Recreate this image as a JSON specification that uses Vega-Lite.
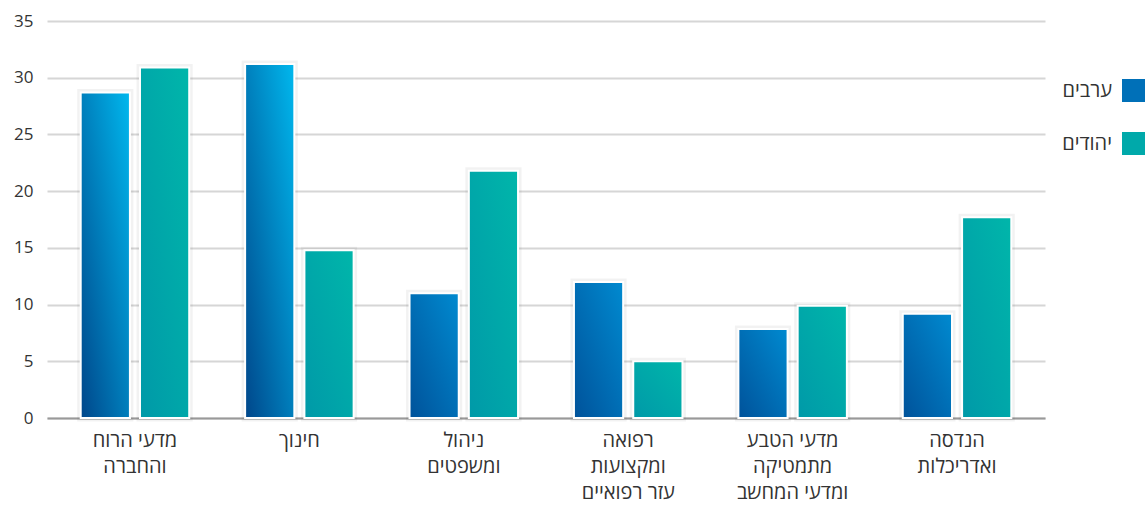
{
  "$schema": "https://vega.github.io/schema/vega-lite/v6.json",
  "autosize": "none",
  "width": 998,
  "height": 397,
  "padding": {"left": 47, "top": 21, "right": 103, "bottom": 90},
  "background": "white",
  "config": {
    "font": "Open Sans, Liberation Sans, DejaVu Sans",
    "view": {"stroke": null}
  },
  "data": {
    "values": [
      {"field": "מדעי הרוח|והחברה", "group": "ערבים", "pct": 28.7},
      {"field": "מדעי הרוח|והחברה", "group": "יהודים", "pct": 30.9},
      {"field": "חינוך", "group": "ערבים", "pct": 31.2},
      {"field": "חינוך", "group": "יהודים", "pct": 14.8},
      {"field": "ניהול|ומשפטים", "group": "ערבים", "pct": 11.0},
      {"field": "ניהול|ומשפטים", "group": "יהודים", "pct": 21.8},
      {"field": "רפואה|ומקצועות|עזר רפואיים", "group": "ערבים", "pct": 12.0},
      {"field": "רפואה|ומקצועות|עזר רפואיים", "group": "יהודים", "pct": 5.0},
      {"field": "מדעי הטבע|מתמטיקה|ומדעי המחשב", "group": "ערבים", "pct": 7.85},
      {"field": "מדעי הטבע|מתמטיקה|ומדעי המחשב", "group": "יהודים", "pct": 9.9},
      {"field": "הנדסה|ואדריכלות", "group": "ערבים", "pct": 9.2},
      {"field": "הנדסה|ואדריכלות", "group": "יהודים", "pct": 17.7}
    ]
  },
  "encoding": {
    "x": {
      "field": "field",
      "type": "nominal",
      "sort": null,
      "scale": {"paddingInner": 0.34, "paddingOuter": 0.205},
      "axis": {
        "title": null,
        "labelAngle": 0,
        "labelExpr": "split(datum.label, '|')",
        "labelFontSize": 20,
        "labelLineHeight": 26,
        "labelColor": "#333333",
        "labelPadding": 12,
        "labelBaseline": "top",
        "ticks": false,
        "domainColor": "#999999",
        "domainWidth": 2
      }
    },
    "xOffset": {
      "field": "group",
      "type": "nominal",
      "sort": ["ערבים", "יהודים"],
      "scale": {"paddingInner": 0.17}
    },
    "y": {
      "field": "pct",
      "type": "quantitative",
      "scale": {"domain": [0, 35]},
      "axis": {
        "title": null,
        "values": [0, 5, 10, 15, 20, 25, 30, 35],
        "domain": false,
        "ticks": false,
        "labelFontSize": 17,
        "labelColor": "#333333",
        "labelPadding": 14,
        "gridColor": "#d6d6d6",
        "gridWidth": 2
      }
    }
  },
  "layer": [
    {
      "mark": {"type": "bar", "stroke": "#000000", "strokeOpacity": 0.05, "strokeWidth": 7},
      "encoding": {
        "color": {
          "field": "group",
          "type": "nominal",
          "sort": ["ערבים", "יהודים"],
          "scale": {"domain": ["ערבים", "יהודים"], "range": ["#0070b8", "#00a9aa"]},
          "legend": {
            "title": null,
            "orient": "none",
            "legendX": 1075,
            "legendY": 58,
            "padding": 0,
            "symbolType": "square",
            "symbolSize": 529,
            "symbolStrokeWidth": 0,
            "symbolOpacity": 1,
            "rowPadding": 30,
            "labelAlign": "right",
            "labelOffset": -33,
            "labelFontSize": 20,
            "labelColor": "#333333",
            "labelLimit": 200
          }
        }
      }
    },
    {
      "mark": {"type": "bar", "stroke": "white", "strokeWidth": 2},
      "encoding": {
        "fill": {
          "condition": [
            {
              "test": "datum.group === 'ערבים' && datum.pct > 20",
              "value": {
                "gradient": "linear",
                "x1": 0, "y1": 1, "x2": 1, "y2": 0,
                "stops": [
                  {"offset": 0, "color": "#00468a"},
                  {"offset": 1, "color": "#00b8ee"}
                ]
              }
            },
            {
              "test": "datum.group === 'ערבים'",
              "value": {
                "gradient": "linear",
                "x1": 0, "y1": 1, "x2": 1, "y2": 0,
                "stops": [
                  {"offset": 0, "color": "#00529a"},
                  {"offset": 1, "color": "#008ad0"}
                ]
              }
            }
          ],
          "value": {
            "gradient": "linear",
            "x1": 0, "y1": 1, "x2": 1, "y2": 0,
            "stops": [
              {"offset": 0, "color": "#0099a8"},
              {"offset": 1, "color": "#00b6aa"}
            ]
          }
        }
      }
    }
  ]
}
